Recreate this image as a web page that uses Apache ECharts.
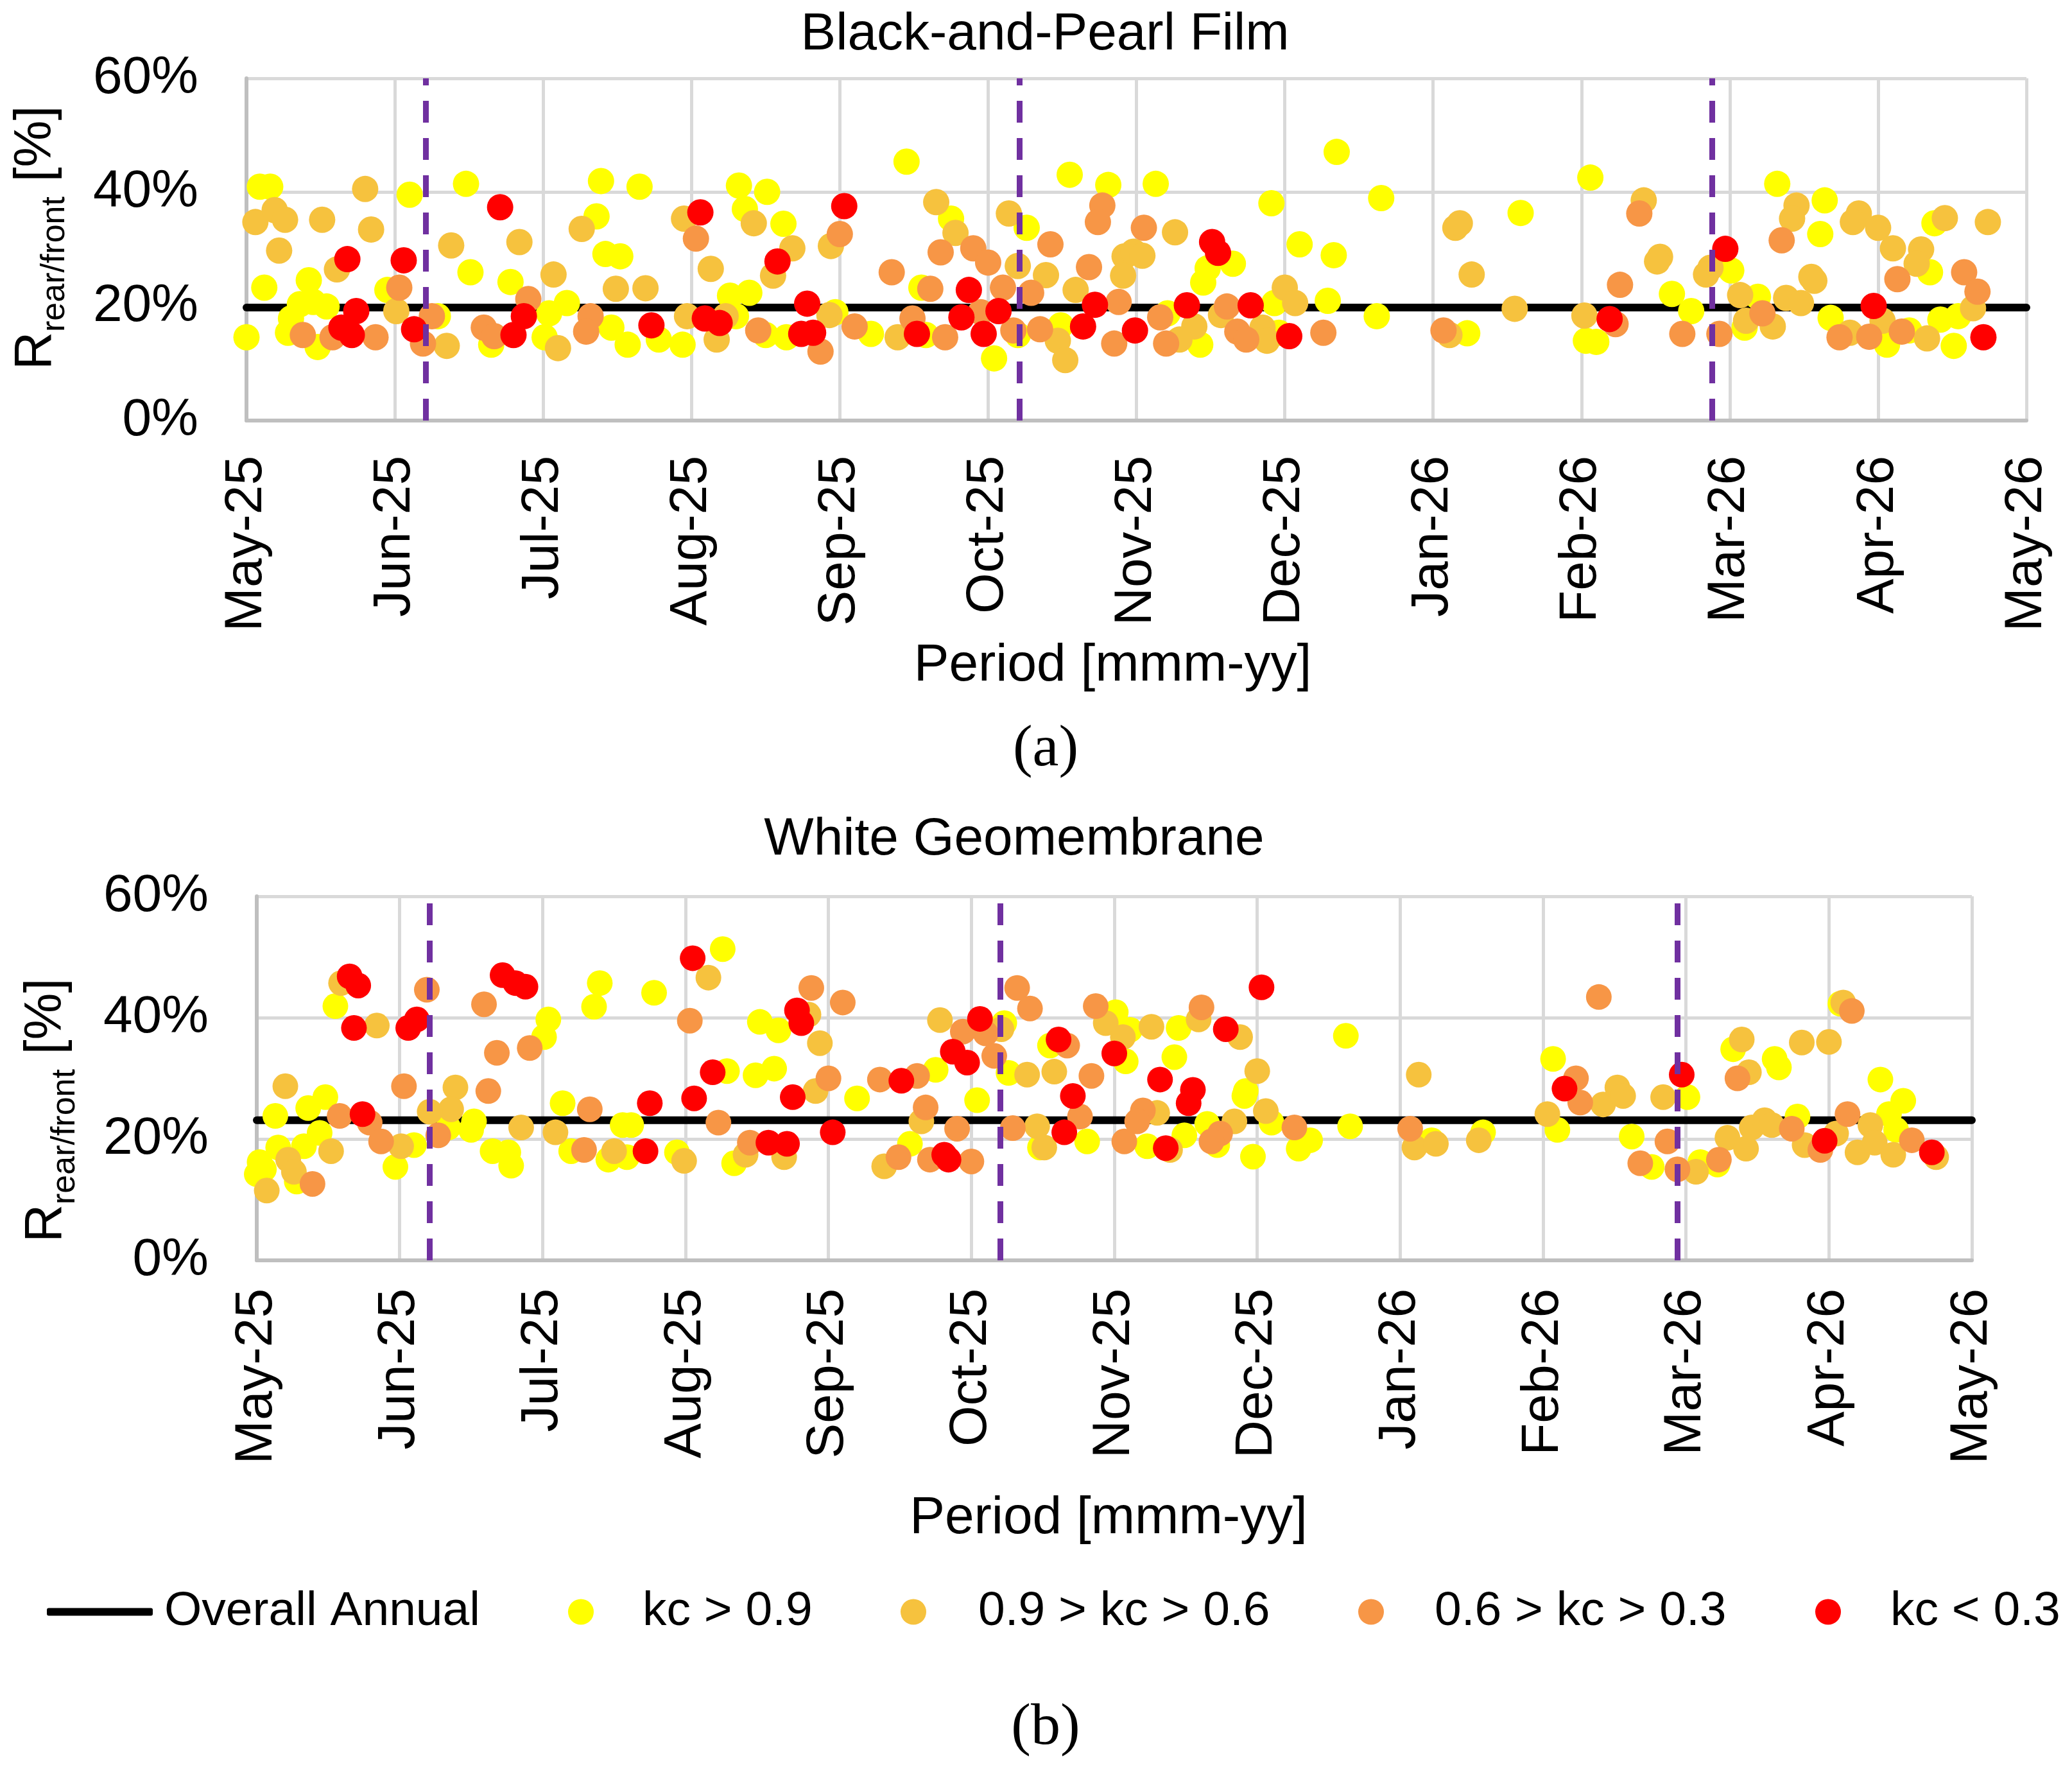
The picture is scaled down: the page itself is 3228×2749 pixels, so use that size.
<!DOCTYPE html>
<html>
<head>
<meta charset="utf-8">
<script src="https://cdn.jsdelivr.net/npm/echarts@6/dist/echarts.min.js"></script>
<style>
  html, body { margin: 0; padding: 0; background: #fff; }
  #chart { width: 3228px; height: 2749px; }
</style>
</head>
<body>
<div id="chart"></div>
<script>
const FONT = "Liberation Sans, Arial, sans-serif";
const SERIF = "Liberation Serif, Times New Roman, serif";

const monthLabels = ["May-25", "Jun-25", "Jul-25", "Aug-25", "Sep-25", "Oct-25", "Nov-25",
  "Dec-25", "Jan-26", "Feb-26", "Mar-26", "Apr-26", "May-26"];
const classNames = ["kc > 0.9", "0.9 > kc > 0.6", "0.6 > kc > 0.3", "kc < 0.3"];
const classColors = ["#FFFF00", "#F6C23E", "#F79646", "#FF0000"];

// x = months since May-25, y = R rear/front in %
const overallTop = 19.8;
const overallBottom = 23.1;
const breaksTop = [1.21, 5.21, 9.88];
const breaksBottom = [1.21, 5.20, 9.94];

const topYellow = [[0.09,41],[0.16,41],[1.10,39.6],[1.48,41.5],[2.39,42],[2.65,41],[2.36,35.8],[2.42,29.2],[2.52,28.8],
  [0.12,23.3],[0.42,24.6],[0.95,22.9],[1.51,26],[1.78,24.3],[2.16,20.6],[0.36,20.4],[0.54,20],[0.30,17.9],[0.45,20.8],
  [1.29,18.3],[2.04,18.8],[0.0,14.6],[0.28,15.4],[0.48,12.9],[1.65,13.3],[2.01,14.6],[2.46,16.3],[2.57,13.3],[2.78,14.2],
  [2.94,13.3],[3.32,41.2],[3.51,40.1],[3.36,37.1],[3.62,34.5],[3.26,21.9],[3.39,22.4],[3.30,18.3],[3.50,15],[3.64,14.6],
  [3.97,19],[4.21,15.2],[4.45,45.4],[4.75,35.4],[4.55,23.3],[4.58,15],[5.04,10.9],[5.26,33.8],[5.20,15],[5.49,16.7],
  [5.55,43.1],[5.81,41.3],[6.13,41.5],[6.65,27.5],[6.48,26.7],[6.45,24.2],[6.21,18.8],[6.43,13.3],[6.96,15.4],[6.93,20.6],
  [6.91,38.1],[7.10,30.9],[7.33,29],[7.29,21],[7.35,47.1],[7.65,39],[7.62,18.3],[8.23,15.3],[8.59,36.4],[9.03,14],
  [9.06,42.6],[9.61,22.2],[9.74,19.2],[9.10,13.8],[10.01,26.3],[10.19,21.7],[10.10,16.3],[10.32,41.5],[10.64,38.6],
  [10.61,32.7],[10.68,18],[11.06,13.3],[11.21,15.8],[11.35,26],[11.38,34.6],[11.42,17.7],[11.54,18.3],[11.51,13.1]];
const topGold = [[0.06,34.8],[0.19,36.9],[0.26,35.2],[0.22,29.8],[0.51,35.2],[0.80,40.6],[0.84,33.5],[1.38,30.7],[1.84,31.3],
  [2.26,33.6],[2.07,25.6],[2.49,23.1],[2.69,23.2],[0.61,26.5],[1.01,19.2],[1.35,13.1],[2.10,12.7],[2.97,18.3],[2.95,35.4],
  [3.42,34.6],[3.68,30.2],[3.55,25.4],[3.13,26.6],[3.23,18.3],[3.17,14.2],[3.93,18.5],[3.94,30.6],[4.65,38.3],[4.78,32.9],
  [4.39,14.6],[5.14,36.3],[5.20,27.1],[5.39,25.5],[5.59,22.9],[5.92,28.8],[5.91,25.4],[5.47,14],[5.52,10.6],[5.98,29.6],
  [6.26,33],[6.04,28.9],[6.39,16.5],[6.29,14.2],[6.57,18.5],[6.85,16.3],[6.88,14],[7.0,23.3],[7.07,20.6],[8.15,33.8],
  [8.18,34.6],[8.26,25.6],[8.11,15],[8.55,19.6],[9.02,18.4],[9.42,38.6],[9.53,28.7],[9.51,27.9],[9.87,26.8],[9.84,25.6],
  [10.07,22],[10.11,17.5],[10.29,16.5],[10.45,37.7],[10.42,35.4],[10.55,25.2],[10.57,24.5],[10.38,21.5],[10.48,20.6],
  [10.81,15.4],[10.87,36.3],[10.83,34.8],[11.0,33.8],[11.10,30.2],[11.29,30],[11.26,27.5],[11.03,17.5],[11.33,14.4],
  [11.45,35.5],[11.74,34.8],[11.64,19.7]];
const topOrange = [[1.03,23.3],[1.90,21.3],[1.25,18.3],[2.32,18.3],[0.38,15],[0.58,14.6],[0.87,14.6],[1.19,13.5],[1.60,16.3],
  [1.67,14.8],[2.29,15.6],[3.03,31.9],[3.45,15.8],[3.87,12.1],[4.0,32.7],[4.10,16.5],[4.35,26],[4.68,29.5],[4.61,23.1],
  [4.49,17.9],[4.71,14.6],[4.90,30.2],[5.0,27.7],[4.95,19],[5.10,23.3],[5.29,22.4],[5.42,30.9],[5.68,26.9],[5.77,37.7],
  [5.74,34.8],[5.88,20.8],[5.35,16],[5.17,15.8],[5.85,13.5],[6.05,33.8],[6.16,18.1],[6.20,13.5],[6.61,20],[6.68,15.6],
  [6.74,14.2],[7.26,15.4],[8.07,15.8],[9.39,36.3],[9.26,23.8],[9.23,16.9],[9.68,15.2],[9.93,15.2],[10.22,18.8],[10.35,31.6],
  [10.74,14.6],[10.94,14.7],[11.13,24.8],[11.16,15.6],[11.58,26],[11.67,22.6]];
const topRed = [[1.71,37.4],[0.68,28.3],[1.06,28.1],[0.74,19.2],[1.87,18.3],[0.64,16.3],[0.71,15],[1.13,16],[1.80,15],
  [2.73,16.7],[3.06,36.5],[3.58,27.9],[3.78,20.5],[3.09,17.9],[3.19,17.1],[3.74,15.2],[3.82,15.4],[4.03,37.6],[4.52,15.2],
  [4.87,22.9],[4.82,18.1],[5.07,19.2],[4.97,15.2],[5.72,20.3],[5.64,16.5],[5.99,15.8],[6.51,31.3],[6.55,29.4],[6.34,20.2],
  [6.77,20.2],[7.03,14.8],[9.19,17.8],[9.97,30.1],[10.97,20.1],[11.71,14.6]];

const bottomYellow = [[0.02,16.2],[0.0,14.2],[0.05,15],[0.15,18.6],[0.28,13],[0.33,18.8],[0.44,21],[0.13,23.8],[0.36,25.1],
  [0.48,26.9],[1.10,19],[0.97,15.4],[0.55,41.9],[1.34,21.9],[1.52,22.9],[1.50,21.5],[2.04,39.7],[2.01,36.8],[1.65,18],
  [1.76,17.8],[1.78,15.6],[2.14,25.9],[2.20,18],[2.40,45.7],[2.36,41.8],[2.78,44.1],[2.46,16.6],[2.56,22.3],[2.62,22.3],
  [2.59,17],[2.94,17.8],[3.26,51.3],[3.29,31.2],[3.34,16],[3.52,39.3],[3.65,37.9],[3.49,30.5],[3.62,31.6],[4.20,26.7],
  [4.75,31.4],[4.57,19.2],[5.04,26.4],[5.23,39.1],[5.26,30.9],[5.48,18.6],[5.55,35.4],[5.81,19.6],[6.01,40.9],[6.08,32.8],
  [6.11,38],[6.45,38.3],[6.42,33.5],[6.23,18.8],[6.49,20.6],[6.65,22.5],[6.72,19],[6.92,27.9],[6.91,27.1],[7.10,22.7],
  [7.37,19.8],[7.29,18.4],[6.97,17.1],[7.62,37],[7.65,22.1],[8.22,19.8],[8.58,21.1],[9.07,33.2],[9.10,21.5],[9.62,20.4],
  [9.76,15.4],[10.01,26.9],[10.10,16.2],[10.22,15.8],[10.33,34.8],[10.62,33.2],[10.65,31.8],[10.78,23.7],[11.08,42.3],
  [11.36,29.8],[11.52,26.3],[11.42,24.1],[11.47,21.5]];
const bottomGold = [[0.07,11.5],[0.22,16.6],[0.26,14.6],[0.52,18],[0.20,28.7],[1.01,18.8],[0.59,45.7],[0.84,38.7],[1.39,28.5],
  [1.36,24.9],[1.21,24.5],[1.85,21.9],[2.09,21.1],[2.50,18],[2.99,16.4],[3.16,46.6],[3.42,17.4],[3.69,17],[3.86,40.5],
  [3.94,35.8],[3.91,27.9],[4.39,15.5],[4.65,22.9],[4.78,39.6],[5.21,38.1],[5.39,30.6],[5.46,22.1],[5.51,18.6],[5.58,31.1],
  [5.94,39.1],[6.06,36.8],[6.26,38.5],[6.59,39.7],[6.88,36.8],[6.30,24.3],[6.39,18.2],[6.84,22.9],[7.0,31.2],[7.06,24.6],
  [8.13,30.6],[8.10,18.6],[8.25,19.2],[8.55,19.8],[9.03,24.1],[9.42,25.7],[9.52,28.5],[9.56,27.1],[9.84,26.9],[10.07,14.6],
  [10.29,20.2],[10.42,18.4],[10.46,21.9],[10.55,23.1],[10.60,22.3],[10.39,36.4],[10.44,31],[10.81,35.9],[11.0,36],
  [10.83,19],[11.05,20.9],[11.10,42.5],[11.20,17.8],[11.29,22.3],[11.32,19.4],[11.45,17.4],[11.75,17]];
const bottomOrange = [[0.39,12.6],[0.58,23.8],[0.79,22.7],[0.87,19.6],[1.03,28.7],[1.19,44.6],[1.27,20.6],[1.62,27.9],
  [1.59,42.2],[1.68,34.2],[1.91,35],[2.33,24.9],[2.29,18.2],[3.03,39.5],[3.23,22.7],[3.45,19.4],[3.88,44.9],[4.0,30],
  [4.10,42.5],[4.36,29.8],[4.62,30.4],[4.49,17],[4.68,25.2],[4.71,16.6],[4.90,21.7],[5.00,16.3],[4.94,37.7],[5.10,37.4],
  [5.16,33.7],[5.32,44.9],[5.41,41.5],[5.29,21.8],[5.67,35.4],[5.84,30.4],[5.76,23.7],[5.87,41.9],[6.07,19.6],[6.61,41.7],
  [6.20,24.7],[6.16,22.9],[6.74,20.9],[6.68,19.6],[7.26,21.9],[8.07,21.7],[9.23,30],[9.26,26],[9.39,43.4],[9.68,16],
  [9.87,19.6],[9.94,15],[10.23,16.6],[10.36,30],[10.74,21.7],[10.94,18.2],[11.16,41.1],[11.13,24.1],[11.58,19.8]];
const bottomRed = [[0.74,24.1],[0.65,46.8],[0.71,45.3],[0.68,38.3],[1.06,38.3],[1.12,39.7],[1.72,47],[1.81,45.7],[1.88,45.1],
  [2.75,25.9],[2.72,18],[3.05,49.8],[3.06,26.7],[3.19,31],[3.58,19.4],[3.71,19.2],[3.78,41.2],[3.81,39.1],[3.75,26.9],
  [4.03,21.1],[4.51,29.6],[4.81,17.4],[4.84,16.6],[5.06,39.8],[4.87,34.4],[4.97,32.6],[5.61,36.4],[5.71,27.1],[5.65,21.1],
  [6.0,34.1],[6.32,29.8],[6.55,28.1],[6.52,25.9],[6.36,18.5],[6.78,38.1],[7.03,45],[9.15,28.3],[9.97,30.6],[10.97,19.7],
  [11.72,17.8]];

const panels = [
  { overall: overallTop, breaks: breaksTop, size: 41, groups: [topYellow, topGold, topOrange, topRed] },
  { overall: overallBottom, breaks: breaksBottom, size: 40, groups: [bottomYellow, bottomGold, bottomOrange, bottomRed] },
];

const chart = echarts.init(document.getElementById("chart"));

function xAxisFor(index, margin, nameGap, namePadRight) {
  return {
    type: "value", gridIndex: index, min: 0, max: 12, interval: 1,
    name: "Period [mmm-yy]", nameLocation: "middle", nameGap: nameGap,
    nameTextStyle: { fontSize: 82, fontFamily: FONT, color: "#000", padding: [0, namePadRight, 0, 0] },
    axisLine: { lineStyle: { color: "#BFBFBF", width: 6 } },
    axisTick: { show: false },
    axisLabel: {
      rotate: 90, margin: margin, fontSize: 82, fontFamily: FONT, color: "#000",
      formatter: (v) => monthLabels[Math.round(v)],
    },
    splitLine: { show: true, lineStyle: { color: "#D9D9D9", width: 5 } },
  };
}

function yAxisFor(index) {
  return {
    type: "value", gridIndex: index, min: 0, max: 60, interval: 20,
    axisLine: { show: true, lineStyle: { color: "#BFBFBF", width: 6 } },
    axisTick: { show: false },
    axisLabel: { margin: 75, fontSize: 82, fontFamily: FONT, color: "#000", formatter: "{value}%" },
    splitLine: { show: true, lineStyle: { color: "#D9D9D9", width: 5 } },
  };
}

function yTitle(x, y) {
  const base = { fontFamily: FONT, fill: "#000", verticalAlign: "bottom", align: "left" };
  return {
    type: "group", x: x, y: y, rotation: Math.PI / 2,
    children: [
      { type: "text", x: 0, y: 17, style: { ...base, text: "R", fontSize: 82 } },
      { type: "text", x: 59, y: 32, style: { ...base, text: "rear/front", fontSize: 52 } },
      { type: "text", x: 270, y: 17, style: { ...base, text: " [%]", fontSize: 82 } },
    ],
  };
}

const series = [];
panels.forEach((panel, i) => {
  series.push({
    name: "Overall Annual", type: "line", xAxisIndex: i, yAxisIndex: i,
    data: [[0, panel.overall], [12, panel.overall]],
    symbol: "none", z: 2, silent: true,
    lineStyle: { color: "#000", width: 12, cap: "round" },
    itemStyle: { color: "#000" },
  });
  panel.groups.forEach((points, k) => {
    series.push({
      name: classNames[k], type: "scatter", xAxisIndex: i, yAxisIndex: i,
      data: points, symbolSize: panel.size, z: 3, silent: true,
      itemStyle: { color: classColors[k], opacity: 1 },
    });
  });
  series.push({
    name: "breaks", type: "line", xAxisIndex: i, yAxisIndex: i, data: [], z: 5, silent: true,
    markLine: {
      silent: true, symbol: "none", animation: false, label: { show: false },
      lineStyle: { color: "#7030A0", width: 9, type: [34, 24] },
      data: panel.breaks.map((v) => ({ xAxis: v })),
    },
  });
});

const legendItems = [
  { name: "Overall Annual", left: 68, pad: 13, icon: "roundRect", w: 165, h: 12 },
  { name: classNames[0], left: 880, pad: 71, icon: "circle", w: 40, h: 40 },
  { name: classNames[1], left: 1398, pad: 76, icon: "circle", w: 40, h: 40 },
  { name: classNames[2], left: 2111, pad: 74, icon: "circle", w: 40, h: 40 },
  { name: classNames[3], left: 2823, pad: 72, icon: "circle", w: 40, h: 40 },
];

chart.setOption({
  animation: false,
  backgroundColor: "#fff",
  title: [
    { text: "Black-and-Pearl Film", left: 1623, top: 8, textAlign: "center",
      textStyle: { fontSize: 82, fontWeight: "normal", fontFamily: FONT, color: "#000" } },
    { text: "White Geomembrane", left: 1575, top: 1262, textAlign: "center",
      textStyle: { fontSize: 82, fontWeight: "normal", fontFamily: FONT, color: "#000" } },
    { text: "(a)", left: 1624, top: 1117, textAlign: "center",
      textStyle: { fontSize: 92, fontWeight: "normal", fontFamily: SERIF, color: "#000" } },
    { text: "(b)", left: 1624, top: 2641, textAlign: "center",
      textStyle: { fontSize: 92, fontWeight: "normal", fontFamily: SERIF, color: "#000" } },
  ],
  grid: [
    { left: 384, top: 122, width: 2773, height: 533 },
    { left: 400, top: 1396, width: 2672, height: 567 },
  ],
  xAxis: [xAxisFor(0, 55, 341, 74), xAxisFor(1, 44, 361, 18)],
  yAxis: [yAxisFor(0), yAxisFor(1)],
  legend: legendItems.map((item) => ({
    data: [{ name: item.name, icon: item.icon }],
    left: item.left, top: 2468, itemWidth: item.w, itemHeight: item.h, selectedMode: false,
    textStyle: { fontSize: 75, fontFamily: FONT, color: "#000", padding: [0, 0, 0, item.pad] },
  })),
  graphic: [yTitle(80, 576), yTitle(96, 1935)],
  series: series,
});
</script>
</body>
</html>
